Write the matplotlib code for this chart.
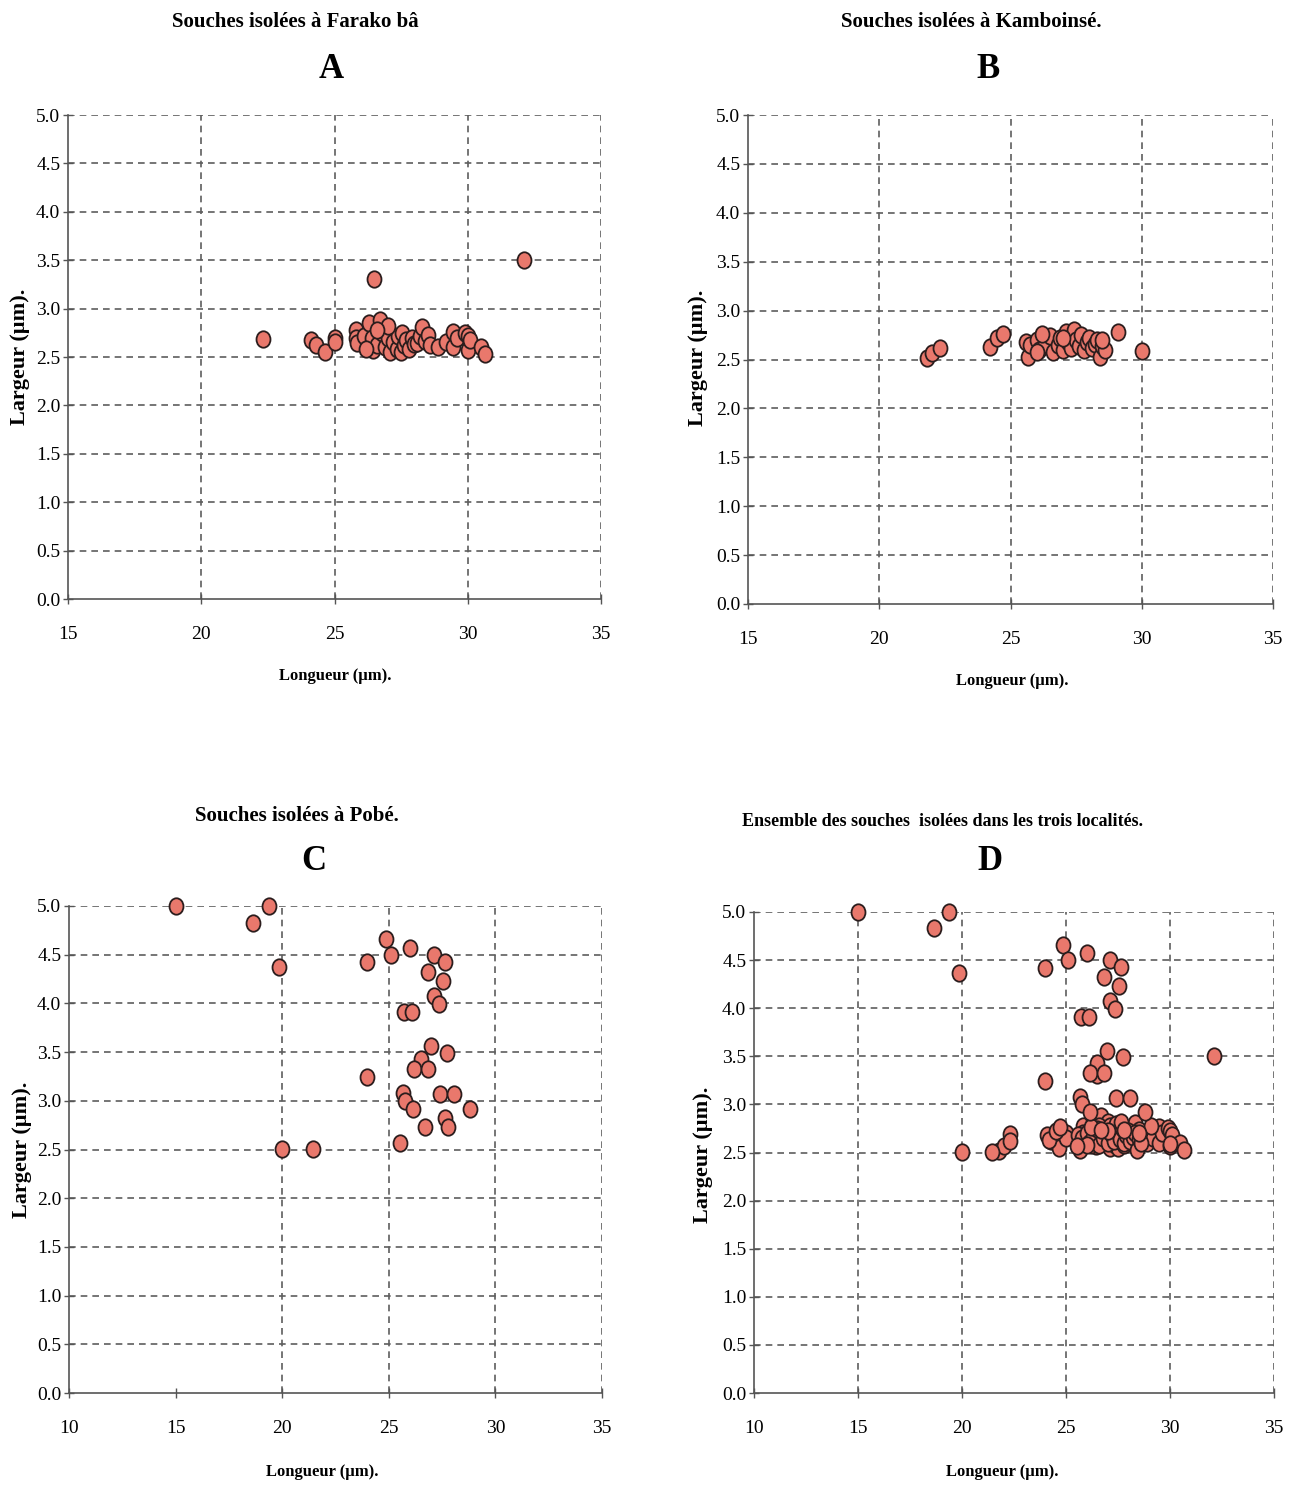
import numpy as np
import matplotlib
matplotlib.use("Agg")
import matplotlib.pyplot as plt
from matplotlib.path import Path

# =====================================
# 1. data
# =====================================
farako_x = [32.1, 26.5, 22.3, 24.1, 24.3, 24.65, 25.0, 25.0,
            25.8, 25.8, 25.85, 26.1, 26.3, 26.4, 26.45, 26.6, 26.7, 26.8,
            26.9, 27.0, 27.1, 27.2, 27.35, 27.4, 27.5, 27.55, 27.6, 27.7,
            27.8, 27.9, 28.0, 28.1, 28.2, 28.3, 28.4, 28.5, 28.6, 28.9,
            29.2, 29.45, 29.45, 29.6, 29.9, 30.0, 30.0, 30.1, 30.5, 30.65,
            26.2, 27.0, 26.6]
farako_y = [3.50, 3.31, 2.69, 2.68, 2.62, 2.55, 2.70, 2.65,
            2.78, 2.70, 2.64, 2.72, 2.85, 2.70, 2.57, 2.62, 2.88, 2.75,
            2.60, 2.70, 2.55, 2.65, 2.58, 2.72, 2.55, 2.75, 2.62, 2.68,
            2.58, 2.70, 2.63, 2.64, 2.72, 2.81, 2.67, 2.73, 2.62, 2.60,
            2.65, 2.76, 2.60, 2.70, 2.75, 2.72, 2.57, 2.68, 2.60, 2.53,
            2.58, 2.82, 2.78]

kamboinse_x = [21.8, 22.0, 22.3, 24.2, 24.5, 24.7, 25.65, 25.6, 25.75,
               26.0, 26.1, 26.3, 26.5, 26.6, 26.8, 26.9, 27.0, 27.1, 27.2,
               27.3, 27.4, 27.5, 27.6, 27.7, 27.8, 27.9, 28.0, 28.1, 28.2,
               28.3, 28.4, 28.5, 28.6, 29.1, 30.0, 26.2, 26.0, 27.0, 28.5]
kamboinse_y = [2.52, 2.57, 2.62, 2.63, 2.72, 2.76, 2.53, 2.68, 2.65,
               2.70, 2.60, 2.66, 2.74, 2.58, 2.65, 2.72, 2.60, 2.78, 2.68,
               2.62, 2.80, 2.70, 2.64, 2.75, 2.60, 2.68, 2.72, 2.62, 2.66,
               2.70, 2.53, 2.64, 2.60, 2.78, 2.59, 2.76, 2.58, 2.72, 2.70]

pobe_x = [15.0, 19.36, 18.65, 19.85, 20.0, 21.44, 24.87, 23.98, 25.1,
          25.99, 27.12, 27.63, 26.84, 27.54, 27.12, 27.35, 25.71, 26.09,
          26.98, 27.73, 26.5, 26.17, 26.84, 23.97, 25.66, 25.76, 26.13,
          27.4, 28.06, 28.8, 27.63, 27.78, 26.7, 25.53]
pobe_y = [5.0, 5.0, 4.83, 4.37, 2.51, 2.51, 4.66, 4.42, 4.50,
          4.57, 4.50, 4.43, 4.32, 4.23, 4.08, 3.99, 3.91, 3.91,
          3.56, 3.49, 3.43, 3.33, 3.33, 3.24, 3.08, 3.00, 2.92,
          3.07, 3.07, 2.92, 2.82, 2.73, 2.73, 2.57]

# D = ensemble des trois localités
all_x = farako_x + kamboinse_x + pobe_x
all_y = farako_y + kamboinse_y + pobe_y

TITLES = ["Souches isolées à Farako bâ",
          "Souches isolées à Kamboinsé.",
          "Souches isolées à Pobé.",
          "Ensemble des souches  isolées dans les trois localités."]
LETTERS = ["A", "B", "C", "D"]

# =====================================
# 2. style
# =====================================
W, H = 1302, 1485
SERIF = ["Liberation Serif", "DejaVu Serif"]
FACE = "#E9786C"
EDGE = "#2b1d1d"
GRID = "#5e5e5e"

circ = Path.unit_circle()
ELLIPSE = Path(circ.vertices * np.array([0.85, 1.0]), circ.codes)

fig = plt.figure(figsize=(W / 100, H / 100), dpi=100)


def px_axes(left, top, right, bottom):
    return fig.add_axes([left / W, 1 - bottom / H, (right - left) / W, (bottom - top) / H])


def ftext(x, y, s, **kw):
    fig.text(x / W, 1 - y / H, s, family=SERIF, ha="center", va="center", **kw)


panels = [
    # box (px), xlim, x-gridlines, data, title pos/size, letter pos, xlabel pos, ylabel pos
    dict(box=(68, 115, 601, 599), xlim=(15, 35), vgrid=[20, 25, 30, 35],
         x=farako_x, y=farako_y, t=(295, 22), ts=15, l=(331, 70), xl=(335, 676), yl=(20, 357)),
    dict(box=(748, 115, 1273, 604), xlim=(15, 35), vgrid=[20, 25, 30, 35],
         x=kamboinse_x, y=kamboinse_y, t=(971, 22), ts=15, l=(988, 70), xl=(1012, 681), yl=(698, 358)),
    dict(box=(69, 906, 602, 1393), xlim=(10, 35), vgrid=[20, 25, 30, 35],
         x=pobe_x, y=pobe_y, t=(297, 816), ts=15, l=(314, 862), xl=(322, 1472), yl=(22, 1150)),
    dict(box=(754, 912, 1274, 1393), xlim=(10, 35), vgrid=[15, 20, 25, 30, 35],
         x=all_x, y=all_y, t=(942, 822), ts=13, l=(990, 862), xl=(1002, 1472), yl=(703, 1155)),
]

# =====================================
# 3. plots
# =====================================
for i, p in enumerate(panels):
    ax = px_axes(*p["box"])
    ax.set_xlim(*p["xlim"])
    ax.set_ylim(0, 5.0)

    for gx in p["vgrid"]:
        ax.axvline(gx, color=GRID, linestyle=(0, (4, 3)), linewidth=1.2, zorder=1)
    for gy in np.arange(0.5, 5.01, 0.5):
        ax.axhline(gy, color=GRID, linestyle=(0, (4, 3)), linewidth=1.2, zorder=1)

    ax.scatter(p["x"], p["y"], marker=ELLIPSE, s=140, facecolor=FACE,
               edgecolor=EDGE, linewidth=1.3, zorder=3, clip_on=False)

    for side in ["top", "right"]:
        ax.spines[side].set_visible(False)
    for side in ["left", "bottom"]:
        ax.spines[side].set_color("#555555")
        ax.spines[side].set_linewidth(1.2)

    ax.set_xticks(np.arange(p["xlim"][0], 35.1, 5))
    ax.set_yticks(np.arange(0, 5.01, 0.5))
    ax.set_xticklabels([f"{v:.0f}" for v in ax.get_xticks()])
    ax.set_yticklabels([f"{v:.1f}" for v in ax.get_yticks()])
    ax.tick_params(axis="both", direction="inout", length=7, width=1.0, color="#555555",
                   labelsize=14)
    ax.tick_params(axis="x", pad=16)
    ax.tick_params(axis="y", pad=2)
    for lab in ax.get_xticklabels() + ax.get_yticklabels():
        lab.set_family(SERIF)

    ftext(*p["t"], TITLES[i], fontsize=p["ts"], fontweight="bold")
    ftext(*p["l"], LETTERS[i], fontsize=25, fontweight="bold")
    ftext(*p["xl"], "Longueur (µm).", fontsize=12, fontweight="bold")
    ftext(*p["yl"], "Largeur (µm).", fontsize=16, fontweight="bold", rotation=90)

plt.savefig("out.png", dpi=100)
plt.close()
